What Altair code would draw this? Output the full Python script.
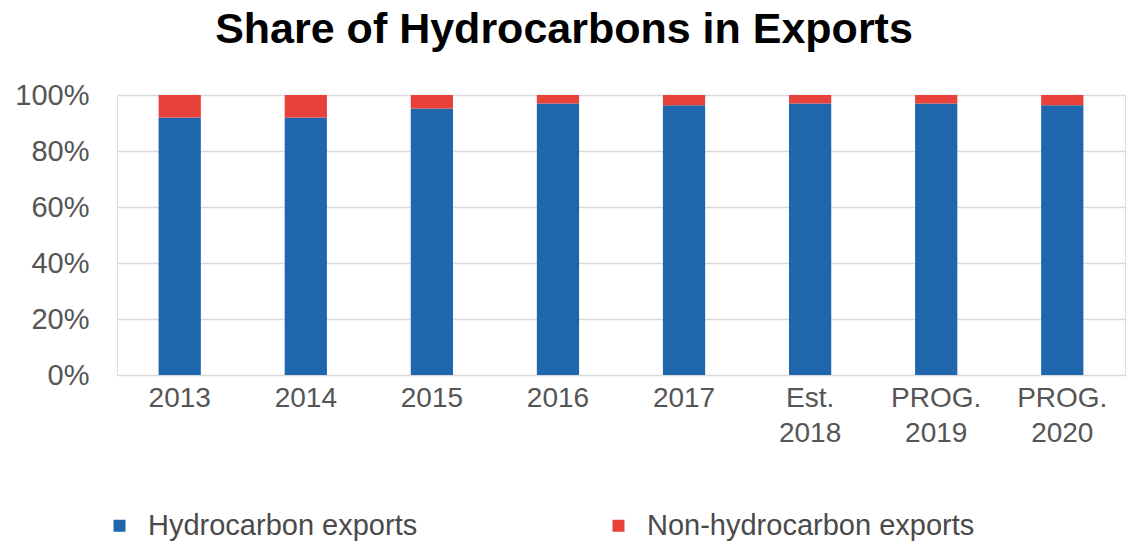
import altair as alt
import pandas as pd

years = ["2013", "2014", "2015", "2016", "2017", "Est.\n2018", "PROG.\n2019", "PROG.\n2020"]
hydro = [0.92, 0.92, 0.952, 0.97, 0.963, 0.97, 0.97, 0.963]
series = ["Hydrocarbon exports", "Non-hydrocarbon exports"]
colors = ["#1f66ad", "#e8413a"]

rows = []
for y, h in zip(years, hydro):
    rows.append({"year": y, "series": series[0], "value": h, "ord": 0})
    rows.append({"year": y, "series": series[1], "value": 1 - h, "ord": 1})
df = pd.DataFrame(rows)

font = "Liberation Sans"

chart = alt.Chart(df).mark_bar().encode(
    x=alt.X("year:N", sort=years, title=None,
            scale=alt.Scale(paddingInner=0.665, paddingOuter=0.33),
            axis=alt.Axis(labelAngle=0, labelExpr="split(datum.label, '\\n')",
                          labelFontSize=28, labelColor="#555555", labelFont=font,
                          labelLineHeight=35, labelPadding=9, ticks=False, domain=False,
                          labelBaseline="top")),
    y=alt.Y("value:Q", stack="zero", title=None,
            scale=alt.Scale(domain=[0, 1]),
            axis=alt.Axis(values=[0, 0.2, 0.4, 0.6, 0.8, 1.0], format=".0%",
                          labelFontSize=29, labelColor="#555555", labelFont=font,
                          labelPadding=28, ticks=False, domain=False,
                          gridColor="#d9d9d9", gridWidth=1.5)),
    color=alt.Color("series:N", sort=series,
                    scale=alt.Scale(domain=series, range=colors),
                    legend=alt.Legend(title=None, orient="none", direction="horizontal",
                                      legendX=-12, legendY=416, symbolType="square",
                                      symbolSize=144, labelFontSize=29, labelFont=font,
                                      labelColor="#4a4a4a", labelOffset=14, labelLimit=0,
                                      columnPadding=186, padding=0)),
    order=alt.Order("ord:Q", sort="ascending"),
).properties(
    width=1008,
    height=280,
    title=alt.TitleParams("Share of Hydrocarbons in Exports", fontSize=43, font=font,
                          fontWeight="bold", color="#000000", anchor="middle",
                          dx=-57, offset=29),
    padding={"left": 117, "top": 95, "right": 3, "bottom": 169},
    autosize=alt.AutoSizeParams(type="none"),
).configure_view(stroke=None).configure(background="white")

chart.save("out.html", embed_options={"renderer": "svg", "actions": False})
